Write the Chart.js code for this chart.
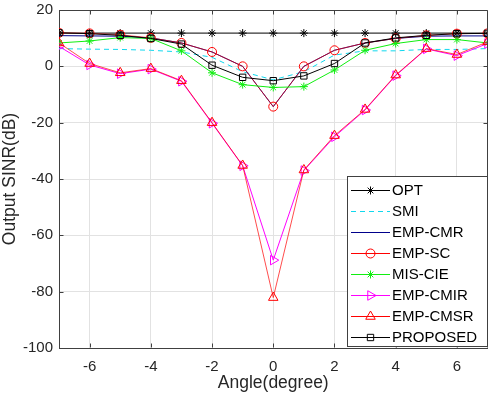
<!DOCTYPE html>
<html>
<head>
<meta charset="utf-8">
<script src="https://cdn.jsdelivr.net/npm/chart.js@4.4.1/dist/chart.umd.min.js"></script>
<style>
  html, body { margin: 0; padding: 0; background: #ffffff; }
  #wrap { width: 503px; height: 397px; position: relative; }
</style>
</head>
<body>
<div id="wrap"><canvas id="c" width="503" height="397"></canvas></div>
<script>
// ---- data ----
const angles = [-7, -6, -5, -4, -3, -2, -1, 0, 1, 2, 3, 4, 5, 6, 7];
const xTicks = [-6, -4, -2, 0, 2, 4, 6];
const yTicks = [-100, -80, -60, -40, -20, 0, 20];
const seriesNames = ['OPT', 'SMI', 'EMP-CMR', 'EMP-SC', 'MIS-CIE', 'EMP-CMIR', 'EMP-CMSR', 'PROPOSED'];
const OPT      = [11.8, 11.8, 11.8, 11.8, 11.8, 11.8, 11.8, 11.8, 11.8, 11.8, 11.8, 11.8, 11.8, 11.8, 11.8];
const SMI      = [6.3, 6.1, 6.0, 5.7, 5.1, 3.2, -1.9, -4.8, -1.9, 4.0, 5.5, 5.5, 6.0, 6.0, 6.3];
const EMP_CMR  = [10.9, 10.8, 10.7, 10.1, 8.3, 5.1, 0.0, -14.3, 0.0, 5.7, 8.3, 9.9, 10.7, 10.8, 10.8];
const EMP_SC   = [11.9, 11.7, 11.2, 10.1, 8.3, 5.1, 0.0, -14.3, 0.0, 5.7, 8.3, 9.9, 11.0, 11.6, 11.7];
const MIS_CIE  = [8.3, 9.0, 10.2, 9.9, 5.5, -2.3, -6.5, -7.5, -7.2, -1.3, 5.7, 8.1, 9.5, 9.5, 8.3];
const EMP_CMIR = [7.1, 0.5, -2.6, -1.0, -5.3, -20.2, -35.3, -68.8, -37.0, -25.0, -15.5, -3.3, 6.2, 3.8, 8.1];
const EMP_CMSR = [8.3, 1.0, -2.3, -0.8, -5.1, -20.0, -35.2, -82.1, -36.8, -24.6, -15.3, -3.1, 6.3, 4.2, 8.7];
const PROPOSED = [11.9, 11.6, 11.0, 9.9, 7.9, 0.4, -3.9, -5.1, -3.4, 1.0, 8.3, 10.1, 11.0, 11.6, 11.7];

const FONT = '"Liberation Sans", Arial, sans-serif';
const TXT = '#262626';

function pts(vals) { return angles.map((a, i) => ({ x: a, y: vals[i] })); }

const styles = [
  { line: '#000000', leg: '#000000', marker: 'star', r: 4, rot: 0, dash: [] },
  { line: '#10d8ee', leg: '#10d8ee', marker: false, r: 0, rot: 0, dash: [5, 4] },
  { line: '#00008b', leg: '#00008b', marker: false, r: 0, rot: 0, dash: [] },
  { line: 'rgba(255,0,0,0.65)', leg: '#ff0000', marker: 'circle', r: 4.5, rot: 0, dash: [] },
  { line: '#11ee11', leg: '#11ee11', marker: 'star', r: 4, rot: 0, dash: [] },
  { line: '#ff00ff', leg: '#ff00ff', marker: 'triangle', r: 5.5, rot: 90, dash: [] },
  { line: 'rgba(255,0,0,0.7)', leg: '#ff0000', marker: 'triangle', r: 5.5, rot: 0, dash: [] },
  { line: '#000000', leg: '#000000', marker: 'rect', r: 4.5, rot: 0, dash: [] }
];
const seriesVals = [OPT, SMI, EMP_CMR, EMP_SC, MIS_CIE, EMP_CMIR, EMP_CMSR, PROPOSED];

const datasets = seriesVals.map((vals, i) => {
  const s = styles[i];
  return {
    label: seriesNames[i],
    data: pts(vals),
    borderColor: s.line,
    borderWidth: 1,
    borderDash: s.dash,
    pointStyle: s.marker || 'circle',
    pointRadius: s.marker ? s.r : 0,
    pointRotation: s.rot,
    pointBorderColor: s.leg,
    pointBackgroundColor: 'rgba(0,0,0,0)',
    pointBorderWidth: 1,
    tension: 0,
    fill: false,
    order: 8 - i
  };
});

function drawMarker(ctx, s, x, y) {
  if (!s.marker) return;
  const r = s.r;
  ctx.save();
  ctx.strokeStyle = s.leg;
  ctx.lineWidth = 1;
  ctx.setLineDash([]);
  ctx.beginPath();
  if (s.marker === 'circle') {
    ctx.arc(x, y, r, 0, Math.PI * 2);
  } else if (s.marker === 'rect') {
    const h = r * Math.SQRT1_2;
    ctx.rect(x - h, y - h, 2 * h, 2 * h);
  } else if (s.marker === 'star') {
    const d = r * Math.SQRT1_2;
    ctx.moveTo(x - r, y); ctx.lineTo(x + r, y);
    ctx.moveTo(x, y - r); ctx.lineTo(x, y + r);
    ctx.moveTo(x - d, y - d); ctx.lineTo(x + d, y + d);
    ctx.moveTo(x - d, y + d); ctx.lineTo(x + d, y - d);
  } else if (s.marker === 'triangle') {
    let a = s.rot * Math.PI / 180;
    ctx.moveTo(x + Math.sin(a) * r, y - Math.cos(a) * r);
    a += 2 * Math.PI / 3;
    ctx.lineTo(x + Math.sin(a) * r, y - Math.cos(a) * r);
    a += 2 * Math.PI / 3;
    ctx.lineTo(x + Math.sin(a) * r, y - Math.cos(a) * r);
    ctx.closePath();
  }
  ctx.stroke();
  ctx.restore();
}

const framePlugin = {
  id: 'frame',
  afterDatasetsDraw(chart) {
    const ctx = chart.ctx;
    const a = chart.chartArea;
    const xs = chart.scales.x, ys = chart.scales.y;
    ctx.save();
    ctx.strokeStyle = '#404040';
    ctx.lineWidth = 1;
    ctx.setLineDash([]);
    const L = Math.round(a.left) + 0.5, R = Math.round(a.right) - 0.5;
    const T = Math.round(a.top) + 0.5, B = Math.round(a.bottom) - 0.5;
    ctx.beginPath();
    ctx.moveTo(L, T); ctx.lineTo(R, T); ctx.lineTo(R, B);
    ctx.stroke();
    ctx.beginPath();
    xTicks.forEach(v => {
      const px = Math.round(xs.getPixelForValue(v)) + 0.5;
      ctx.moveTo(px, B); ctx.lineTo(px, B - 4);
      ctx.moveTo(px, T); ctx.lineTo(px, T + 4);
    });
    yTicks.forEach(v => {
      const py = Math.round(ys.getPixelForValue(v)) + 0.5;
      ctx.moveTo(L, py); ctx.lineTo(L + 4, py);
      ctx.moveTo(R, py); ctx.lineTo(R - 4, py);
    });
    ctx.stroke();

    // legend
    const bx = 347.5, by = 176.5, bw = 140, bh = 170;
    ctx.fillStyle = '#ffffff';
    ctx.fillRect(bx, by, bw, bh);
    ctx.strokeStyle = '#404040';
    ctx.strokeRect(bx, by, bw, bh);
    ctx.font = '15px ' + FONT;
    ctx.textBaseline = 'middle';
    ctx.textAlign = 'left';
    seriesNames.forEach((name, i) => {
      const s = styles[i];
      const y = 190 + 21 * i;
      ctx.save();
      ctx.strokeStyle = s.leg;
      ctx.lineWidth = 1;
      ctx.setLineDash(s.dash);
      ctx.beginPath();
      ctx.moveTo(351, y + 0.5); ctx.lineTo(390, y + 0.5);
      ctx.stroke();
      ctx.restore();
      drawMarker(ctx, s, 370.5, y + 0.5);
      ctx.fillStyle = '#000000';
      ctx.fillText(name, 392, y + 1);
    });
    ctx.restore();
  }
};

new Chart(document.getElementById('c'), {
  type: 'line',
  data: { datasets },
  options: {
    responsive: false,
    animation: false,
    layout: { padding: { left: 0, right: 15.5, top: 10, bottom: 0 } },
    plugins: { legend: { display: false }, tooltip: { enabled: false } },
    scales: {
      x: {
        type: 'linear',
        min: -7, max: 7,
        afterBuildTicks: s => { s.ticks = xTicks.map(v => ({ value: v })); },
        afterFit: s => { s.height = 49; s.paddingLeft = 0; s.paddingRight = 0; },
        grid: { color: '#e2e2e2', drawTicks: false },
        border: { color: '#404040', width: 1 },
        ticks: { padding: 10, color: TXT, font: { family: FONT, size: 15 }, maxRotation: 0, autoSkip: false },
        title: { display: true, text: 'Angle(degree)', color: TXT, font: { family: FONT, size: 17.5 }, padding: { top: 0, bottom: 3 } }
      },
      y: {
        type: 'linear',
        min: -100, max: 20,
        afterBuildTicks: s => { s.ticks = yTicks.map(v => ({ value: v })); },
        afterFit: s => { s.width = 59; s.paddingTop = 0; s.paddingBottom = 0; },
        grid: { color: '#e2e2e2', drawTicks: false },
        border: { color: '#404040', width: 1 },
        ticks: { padding: 6, color: TXT, font: { family: FONT, size: 15 }, autoSkip: false },
        title: { display: true, text: 'Output SINR(dB)', color: TXT, font: { family: FONT, size: 17.5 }, padding: { top: 0, bottom: 0 } }
      }
    }
  },
  plugins: [framePlugin]
});
</script>
</body>
</html>
